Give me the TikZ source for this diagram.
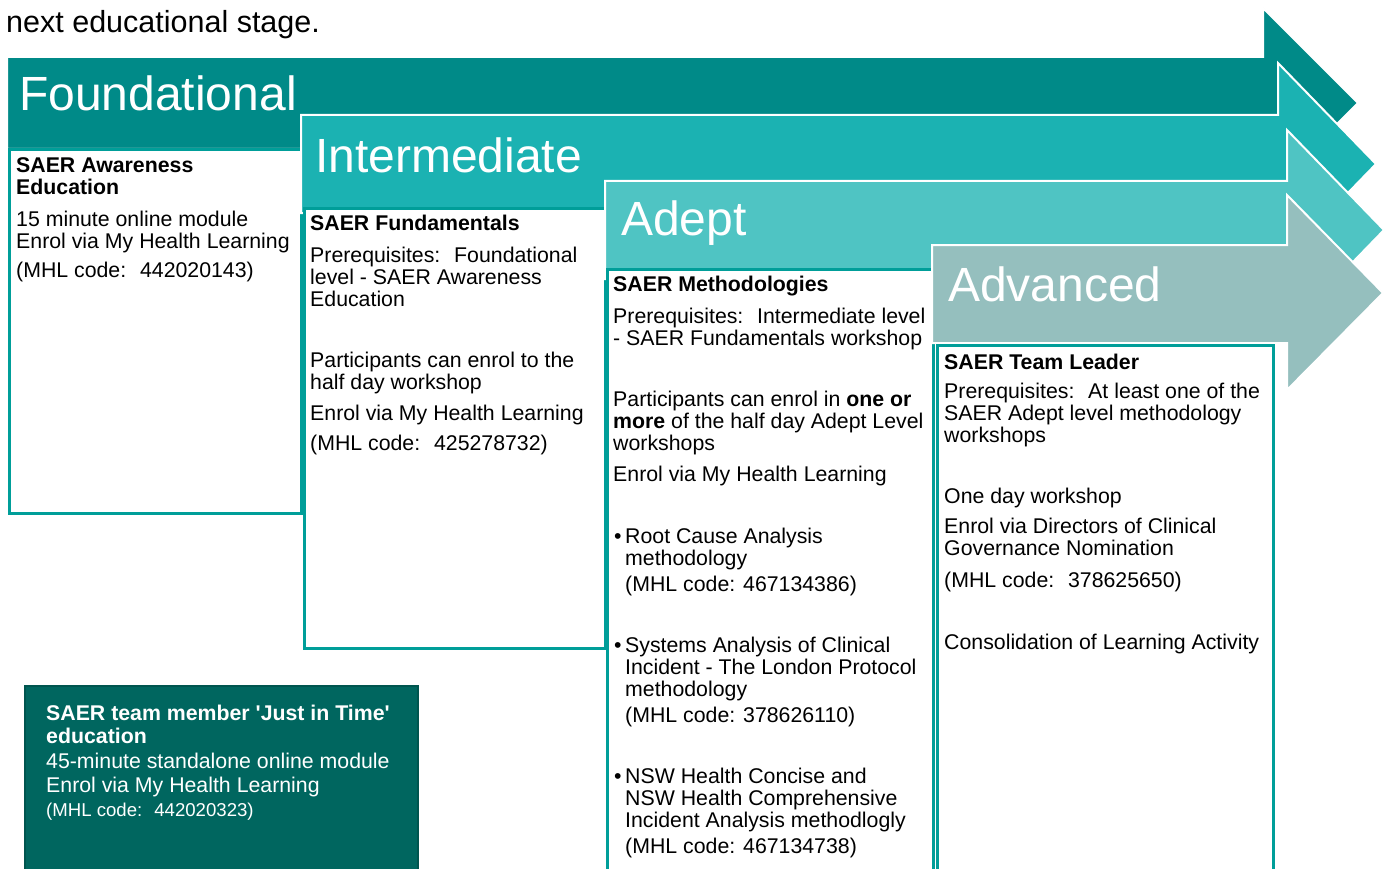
\documentclass[tikz,border=0pt]{standalone}
\usepackage{fontspec}
\setmainfont{Liberation Sans}
\definecolor{cfound}{HTML}{008A88}
\definecolor{cinter}{HTML}{1BB2B2}
\definecolor{cadept}{HTML}{4FC4C3}
\definecolor{cadv}{HTML}{95BFBE}
\definecolor{cbox}{HTML}{009E99}
\definecolor{cteam}{HTML}{00665F}
\definecolor{cteamline}{HTML}{00554F}
\newcommand{\ml}[1]{\begin{tabular}[t]{@{}l@{}}#1\end{tabular}}
\tikzset{
  arrowshape/.style={draw=white, line width=2pt, line join=miter},
  contentbox/.style={draw=cbox, line width=3pt, fill=white},
  title/.style={anchor=base west, inner sep=0pt, text=white, font=\fontsize{48}{50}\selectfont},
  body/.style={anchor=base west, inner sep=0pt, font=\fontsize{21.3}{22}\selectfont},
  bodyb/.style={body, font=\fontsize{21.3}{22}\selectfont\bfseries},
  teamtxt/.style={anchor=base west, inner sep=0pt, text=white, font=\fontsize{21.3}{24}\selectfont},
  teambold/.style={teamtxt, font=\fontsize{21.3}{23.5}\selectfont\bfseries},
  teamsmall/.style={teamtxt, font=\fontsize{18.6}{20}\selectfont},
}
\begin{document}
\begin{tikzpicture}[x=1pt,y=-1pt]
\useasboundingbox (0,0) rectangle (1388,869);
\fill[white] (0,0) rectangle (1388,869);

\node[anchor=base west, inner sep=0pt, font=\fontsize{30.5}{32}\selectfont] (intro) at (6,33) {next educational stage.};

% Foundational
\fill[cfound, arrowshape] (7,57) -- (1263,57) -- (1263,8) -- (1358,103) -- (1263,198) -- (1263,149) -- (7,149) -- cycle;
\draw[contentbox] (9.5,150) rectangle (301.5,513);
\node[title] (tfound) at (19,110.5) {Foundational};
\node[bodyb] (f1) at (16,172.7) {\ml{SAER Awareness\\Education}};
\node[body] (f2) at (16,226) {\ml{15 minute online module\\Enrol via My Health Learning}};
\node[body] (f3) at (16,277.7) {(MHL code:~ 442020143)};

% Intermediate
\fill[cinter, arrowshape] (301,115) -- (1278,115) -- (1278,63) -- (1376,164) -- (1278,265) -- (1278,213) -- (301,213) -- cycle;
\draw[contentbox] (304.5,208) rectangle (605,648);
\node[title] (tinter) at (315,172) {Intermediate};
\node[bodyb] (i1) at (310,230.7) {SAER Fundamentals};
\node[body] (i2) at (310,262.3) {\ml{Prerequisites:~ Foundational\\level - SAER Awareness\\Education}};
\node[body] (i3) at (310,367.3) {\ml{Participants can enrol to the\\half day workshop}};
\node[body] (i4) at (310,420) {Enrol via My Health Learning};
\node[body] (i5) at (310,450) {(MHL code:~ 425278732)};

% Adept
\fill[cadept, arrowshape] (605,181) -- (1287,181) -- (1287,130) -- (1384,230) -- (1287,330) -- (1287,279) -- (605,279) -- cycle;
\draw[contentbox] (607.5,269) rectangle (933.5,895);
\node[title] (tadept) at (621,235) {Adept};
\node[bodyb] (a1) at (613,291.7) {SAER Methodologies};
\node[body] (a2) at (613,323.3) {\ml{Prerequisites:~ Intermediate level\\- SAER Fundamentals workshop}};
\node[body] (a3) at (613,406.7) {\ml{Participants can enrol in \textbf{one or}\\\textbf{more} of the half day Adept Level\\workshops}};
\node[body] (a4) at (613,481.7) {Enrol via My Health Learning};
\node[body] (b1) at (614,543) {•};
\node[body] (a5) at (625,543) {\ml{Root Cause Analysis\\methodology}};
\node[body] (a6) at (625,591.5) {(MHL code: 467134386)};
\node[body] (b2) at (614,652) {•};
\node[body] (a7) at (625,652) {\ml{Systems Analysis of Clinical\\Incident - The London Protocol\\methodology}};
\node[body] (a8) at (625,722) {(MHL code: 378626110)};
\node[body] (b3) at (614,783) {•};
\node[body] (a9) at (625,783) {\ml{NSW Health Concise and\\NSW Health Comprehensive\\Incident Analysis methodlogly}};
\node[body] (a10) at (625,853) {(MHL code: 467134738)};

% Advanced
\fill[cadv, arrowshape] (932,245) -- (1287,245) -- (1287,195) -- (1383,293) -- (1287,390) -- (1287,343) -- (932,343) -- cycle;
\draw[contentbox] (937.5,345) rectangle (1273,895);
\node[title] (tadv) at (948,301) {Advanced};
\node[bodyb] (v1) at (944,369) {SAER Team Leader};
\node[body] (v2) at (944,398.5) {\ml{Prerequisites:~ At least one of the\\SAER Adept level methodology\\workshops}};
\node[body] (v3) at (944,503.5) {One day workshop};
\node[body] (v4) at (944,533.5) {\ml{Enrol via Directors of Clinical\\Governance Nomination}};
\node[body] (v5) at (944,587) {(MHL code:~ 378625650)};
\node[body] (v6) at (944,649) {Consolidation of Learning Activity};

% Team member box
\draw[fill=cteam, draw=cteamline, line width=1.5pt] (25,686) rectangle (418,895);
\node[teambold] (t1) at (46,720) {\ml{SAER team member \textquotesingle Just in Time\textquotesingle\\education}};
\node[teamtxt] (t2) at (46,768.5) {\ml{45-minute standalone online module\\Enrol via My Health Learning}};
\node[teamsmall] (t3) at (46,816) {(MHL code:~ 442020323)};
\end{tikzpicture}
\end{document}
